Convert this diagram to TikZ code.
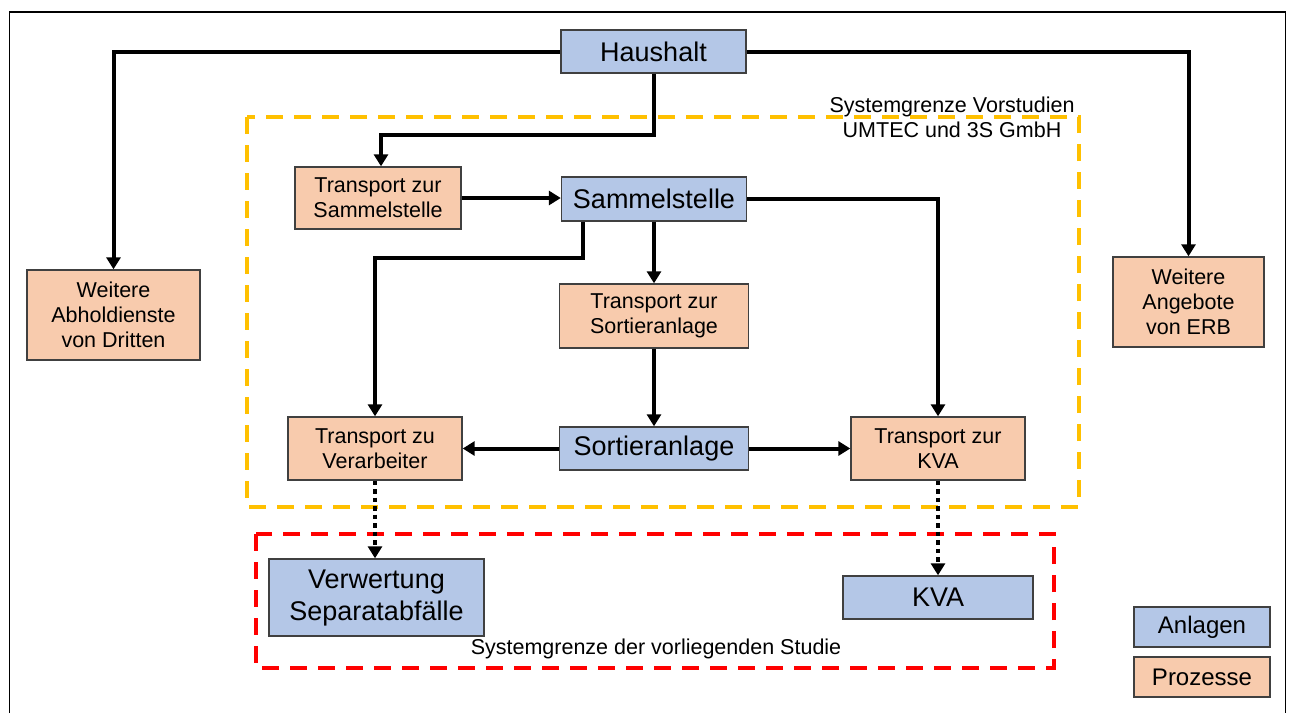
\documentclass[tikz,border=0pt]{standalone}
\usepackage{fontspec}
\setmainfont{Liberation Sans}
\usetikzlibrary{arrows.meta,calc}

\definecolor{anlagefill}{HTML}{B4C7E7}
\definecolor{prozessfill}{HTML}{F8CBAD}
\definecolor{boxline}{HTML}{404040}
\definecolor{yellowline}{HTML}{FFC000}
\definecolor{redline}{HTML}{FF0000}

\tikzset{
  box/.style={draw=boxline, line width=1.4pt, align=center, inner sep=0pt},
  anlage/.style={box, fill=anlagefill, font=\fontsize{27}{32}\selectfont},
  prozess/.style={box, fill=prozessfill, font=\fontsize{21.5}{25}\selectfont},
  legendbox/.style={box, font=\fontsize{24}{28}\selectfont},
  arr/.style={line width=4pt, -{Triangle[length=12pt,width=14pt]}},
  dotarr/.style={line width=4.5pt, dash pattern=on 4.5pt off 4pt, -{Triangle[length=12pt,width=14pt]}},
  grenze/.style={line width=4pt, dash pattern=on 17pt off 11pt},
  grenztext/.style={align=center, font=\fontsize{21.5}{25}\selectfont}
}

\begin{document}
\begin{tikzpicture}[x=1pt,y=-1pt]
\useasboundingbox (0,0) rectangle (1289,713);

% outer frame (open at the bottom edge)
\draw[line width=1.6pt] (9.5,713) -- (9.5,12) -- (1285.5,12) -- (1285.5,713);

% system boundaries
\draw[grenze, yellowline] (247,117) rectangle (1079,507);
\draw[grenze, redline] (256,534) rectangle (1054,668);
\node[grenztext] (lblvor) at (952,117) {Systemgrenze Vorstudien\\UMTEC und 3S GmbH};
\node[grenztext] (lblstudie) at (656,649) {Systemgrenze der vorliegenden Studie};

% facilities
\node[anlage, minimum width=185pt, minimum height=43pt] (haus) at (653.5,51.5) {Haushalt};
\node[anlage, minimum width=185pt, minimum height=44pt] (sam) at (654,199) {Sammelstelle};
\node[anlage, minimum width=189pt, minimum height=43pt] (sort) at (654,448.5) {Sortieranlage};
\node[anlage, minimum width=215pt, minimum height=77pt] (verw) at (376.5,597.5) {Verwertung\\Separatabfälle};
\node[anlage, minimum width=190pt, minimum height=43pt] (kva) at (938,597.5) {KVA};

% processes
\node[prozess, minimum width=173pt, minimum height=90pt] (abhol) at (113.5,315) {Weitere\\Abholdienste\\von Dritten};
\node[prozess, minimum width=151pt, minimum height=90pt] (erb) at (1188.5,302) {Weitere\\Angebote\\von ERB};
\node[prozess, minimum width=166pt, minimum height=62pt] (tsam) at (378,198) {Transport zur\\Sammelstelle};
\node[prozess, minimum width=189pt, minimum height=64pt] (tsort) at (654,316) {Transport zur\\Sortieranlage};
\node[prozess, minimum width=174pt, minimum height=63pt] (tverarb) at (375,448.5) {Transport zu\\Verarbeiter};
\node[prozess, minimum width=174pt, minimum height=63pt] (tkva) at (938,448.5) {Transport zur\\KVA};

% legend
\node[legendbox, fill=anlagefill, minimum width=136pt, minimum height=40pt] (legA) at (1202,627) {Anlagen};
\node[legendbox, fill=prozessfill, minimum width=136pt, minimum height=40pt] (legP) at (1202,677) {Prozesse};

% flows
\draw[arr] (haus.west) -| (abhol.north);
\draw[arr] (haus.east) -| (erb.north);
\draw[arr] (haus.south) -- ++(0,61) -| ([xshift=3pt]tsam.north);
\draw[arr] (tsam.east) -- (sam.west |- tsam.east);
\draw[arr] ($(sam.south)+(-71,0)$) -- ++(0,36) -| (tverarb.north);
\draw[arr] (sam.south) -- (tsort.north);
\draw[arr] (sam.east) -| (tkva.north);
\draw[arr] (tsort.south) -- (sort.north);
\draw[arr] (sort.west) -- (tverarb.east |- sort.west);
\draw[arr] (sort.east) -- (tkva.west |- sort.east);
\draw[dotarr] (tverarb.south) -- (tverarb.south |- verw.north);
\draw[dotarr] (tkva.south) -- (kva.north);
\end{tikzpicture}
\end{document}
